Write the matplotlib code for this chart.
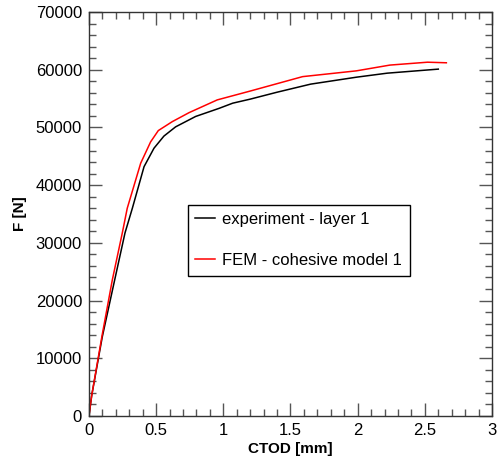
import matplotlib.pyplot as plt
from matplotlib.ticker import MultipleLocator, FormatStrFormatter

# experiment - layer 1 (black)
exp_ctod = [0, 0.02, 0.099, 0.186, 0.268, 0.323, 0.41, 0.484, 0.558, 0.645,
            0.794, 0.968, 1.07, 1.2, 1.4, 1.65, 1.99, 2.22, 2.6]
exp_force = [0, 3500, 13700, 23000, 31700, 36000, 43200, 46400, 48500, 50100,
             51900, 53300, 54200, 54900, 56100, 57500, 58700, 59400, 60100]

# FEM - cohesive model 1 (red)
fem_ctod = [0, 0.02, 0.098, 0.174, 0.248, 0.285, 0.385, 0.459, 0.516, 0.62,
            0.745, 0.955, 1.2, 1.59, 1.99, 2.24, 2.52, 2.66]
fem_force = [0, 3500, 14000, 23600, 31700, 36000, 43800, 47500, 49450, 51000,
             52560, 54770, 56300, 58800, 59800, 60800, 61300, 61200]

plt.rcParams.update({
    "font.family": "Liberation Sans",
    "font.size": 12,
})

fig = plt.figure(figsize=(4.97, 4.61), dpi=100)
ax = fig.add_axes([0.179, 0.0976, 0.811, 0.8764])

ax.plot(exp_ctod, exp_force, color="black", lw=1.1, label="experiment - layer 1")
ax.plot(fem_ctod, fem_force, color="red", lw=1.1, label="FEM - cohesive model 1")

ax.set_xlim(0, 3)
ax.set_ylim(0, 70000)
ax.xaxis.set_major_locator(MultipleLocator(0.5))
ax.xaxis.set_minor_locator(MultipleLocator(0.1))
ax.xaxis.set_major_formatter(FormatStrFormatter("%g"))
ax.yaxis.set_major_locator(MultipleLocator(10000))
ax.yaxis.set_minor_locator(MultipleLocator(2000))

ax.tick_params(which="both", direction="in", top=True, right=True, color="#555555", width=1)
ax.tick_params(which="major", length=9.5, pad=5)
ax.tick_params(which="minor", length=5)
for s in ax.spines.values():
    s.set_color("#333333")
    s.set_linewidth(1)

ax.set_xlabel("CTOD [mm]", fontweight="bold", fontsize=11, labelpad=3)
ax.set_ylabel("F [N]", fontweight="bold", fontsize=11, labelpad=6)

leg = ax.legend(loc="upper left", bbox_to_anchor=(0.245, 0.523), fancybox=False,
                edgecolor="black", framealpha=1, handlelength=1.2, handletextpad=0.42,
                labelspacing=1.55, borderpad=0.45, borderaxespad=0)
leg.get_frame().set_linewidth(1)

fig.savefig("out.png", dpi=100, facecolor="white")
